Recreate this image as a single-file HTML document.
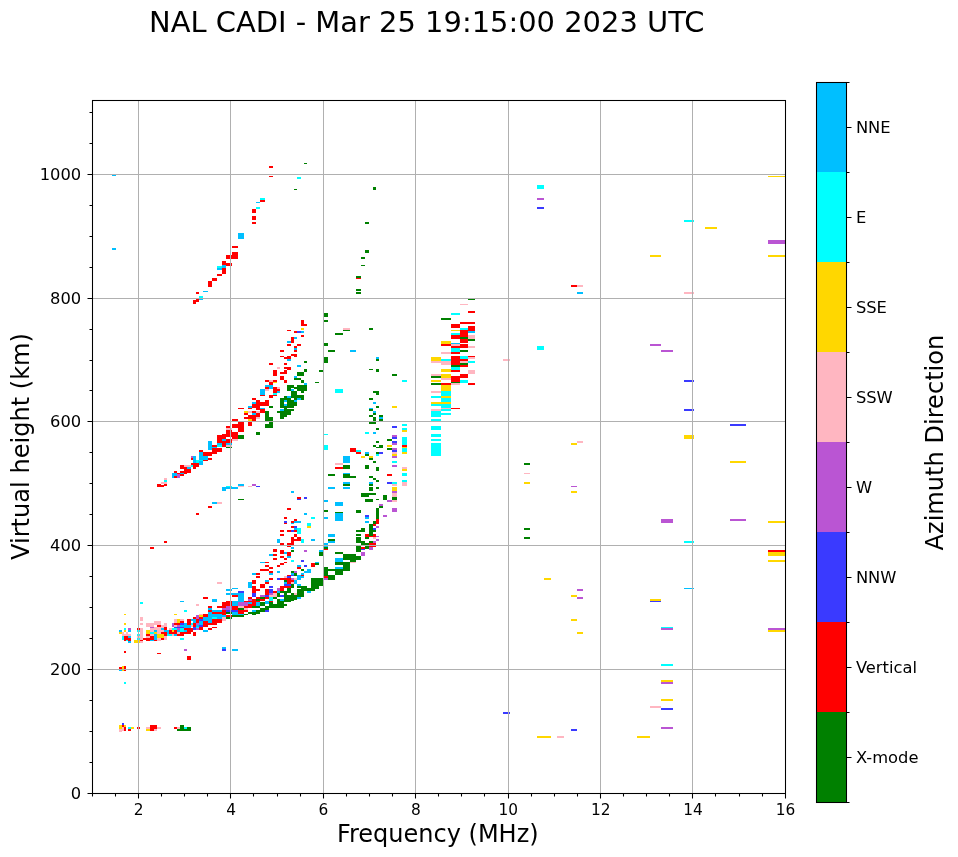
<!DOCTYPE html>
<html lang="en"><head><meta charset="utf-8"><title>NAL CADI ionogram</title>
<style>html,body{margin:0;padding:0;background:#fff}svg{display:block;will-change:transform}</style></head>
<body>
<svg width="958" height="857" viewBox="0 0 958 857" font-family='"DejaVu Sans","Liberation Sans",sans-serif' fill="#000">
<rect width="958" height="857" fill="#fff"/>
<g id="data" shape-rendering="crispEdges">
<path fill="#ffd700" d="M768 176h17v1h-17z"/>
<path fill="#00ffff" d="M684 220h10v2h-10z"/>
<path fill="#ffd700" d="M705 227h12v2h-12z"/>
<path fill="#ba55d3" d="M768 240h17v4h-17z"/>
<path fill="#ffd700" d="M768 255h17v2h-17zM650 255h11v2h-11z"/>
<path fill="#ffb6c1" d="M684 292h10v2h-10z"/>
<path fill="#ba55d3" d="M650 344h11v2h-11zM661 350h12v2h-12z"/>
<path fill="#3a3aff" d="M684 380h10v2h-10zM684 409h10v2h-10zM730 424h16v2h-16z"/>
<path fill="#ffd700" d="M684 435h10v4h-10zM730 461h16v2h-16z"/>
<path fill="#ba55d3" d="M661 519h12v4h-12zM730 519h16v2h-16z"/>
<path fill="#ffd700" d="M768 521h17v2h-17z"/>
<path fill="#00ffff" d="M684 541h10v2h-10z"/>
<path fill="#ff0000" d="M768 550h17v2h-17z"/>
<path fill="#ffd700" d="M768 552h17v4h-17zM768 560h17v2h-17z"/>
<path fill="#00bfff" d="M684 588h10v1h-10z"/>
<path fill="#ffd700" d="M650 599h11v2h-11z"/>
<path fill="#3a3aff" d="M650 601h11v1h-11z"/>
<path fill="#00ffff" d="M661 627h12v1h-12z"/>
<path fill="#ba55d3" d="M661 628h12v2h-12zM768 628h17v2h-17z"/>
<path fill="#ffd700" d="M768 630h17v2h-17z"/>
<path fill="#00ffff" d="M661 664h12v2h-12z"/>
<path fill="#ffd700" d="M661 680h12v2h-12z"/>
<path fill="#ba55d3" d="M661 682h12v2h-12z"/>
<path fill="#ffd700" d="M661 699h12v2h-12z"/>
<path fill="#ffb6c1" d="M650 706h11v2h-11z"/>
<path fill="#3a3aff" d="M661 708h12v2h-12z"/>
<path fill="#ba55d3" d="M661 727h12v2h-12z"/>
<path fill="#ffd700" d="M637 736h13v2h-13z"/>
<path fill="#00ffff" d="M537 185h7v4h-7z"/>
<path fill="#ba55d3" d="M537 198h7v2h-7z"/>
<path fill="#3a3aff" d="M537 207h7v2h-7z"/>
<path fill="#ff0000" d="M571 285h6v2h-6z"/>
<path fill="#ffb6c1" d="M577 285h6v2h-6z"/>
<path fill="#00bfff" d="M577 292h6v2h-6z"/>
<path fill="#00ffff" d="M537 346h7v4h-7z"/>
<path fill="#ffb6c1" d="M503 359h7v2h-7zM577 441h6v2h-6z"/>
<path fill="#ffd700" d="M571 443h6v2h-6z"/>
<path fill="#008000" d="M524 463h6v2h-6z"/>
<path fill="#ffb6c1" d="M524 473h6v1h-6z"/>
<path fill="#ffd700" d="M524 482h6v2h-6z"/>
<path fill="#ba55d3" d="M571 486h6v1h-6z"/>
<path fill="#ffd700" d="M571 491h6v2h-6z"/>
<path fill="#008000" d="M524 528h6v2h-6zM524 537h6v2h-6z"/>
<path fill="#ffd700" d="M544 578h7v2h-7z"/>
<path fill="#ba55d3" d="M577 589h6v2h-6z"/>
<path fill="#ffd700" d="M571 595h6v2h-6z"/>
<path fill="#ba55d3" d="M577 597h6v2h-6z"/>
<path fill="#ffd700" d="M571 619h6v2h-6zM577 632h6v2h-6z"/>
<path fill="#3a3aff" d="M503 712h7v2h-7zM571 729h6v2h-6z"/>
<path fill="#ffd700" d="M537 736h14v2h-14z"/>
<path fill="#ffb6c1" d="M557 736h7v2h-7z"/>
<path fill="#008000" d="M468 299h7v1h-7z"/>
<path fill="#ffb6c1" d="M460 304h8v1h-8z"/>
<path fill="#ff0000" d="M468 311h7v2h-7z"/>
<path fill="#00ffff" d="M451 313h9v2h-9z"/>
<path fill="#008000" d="M441 318h10v2h-10z"/>
<path fill="#ff0000" d="M460 322h15v2h-15zM451 324h9v4h-9z"/>
<path fill="#00ffff" d="M460 328h8v2h-8z"/>
<path fill="#ff0000" d="M468 326h7v5h-7z"/>
<path fill="#ffd700" d="M451 330h9v1h-9z"/>
<path fill="#ff0000" d="M460 330h8v7h-8z"/>
<path fill="#00bfff" d="M468 331h7v2h-7z"/>
<path fill="#00ffff" d="M451 333h9v2h-9z"/>
<path fill="#ff0000" d="M451 335h9v4h-9z"/>
<path fill="#ffb6c1" d="M468 335h7v4h-7z"/>
<path fill="#008000" d="M460 337h8v2h-8zM468 339h7v2h-7z"/>
<path fill="#ff0000" d="M460 339h8v4h-8z"/>
<path fill="#ffd700" d="M441 341h10v3h-10z"/>
<path fill="#00bfff" d="M451 343h9v1h-9z"/>
<path fill="#ff0000" d="M441 344h10v2h-10z"/>
<path fill="#ffb6c1" d="M451 344h9v2h-9z"/>
<path fill="#ff0000" d="M460 344h8v4h-8zM451 346h9v2h-9z"/>
<path fill="#ffb6c1" d="M468 346h7v2h-7z"/>
<path fill="#00ffff" d="M451 348h9v4h-9z"/>
<path fill="#008000" d="M460 350h8v2h-8z"/>
<path fill="#ffb6c1" d="M441 352h10v2h-10z"/>
<path fill="#ff0000" d="M451 352h9v2h-9zM451 356h9v9h-9z"/>
<path fill="#00ffff" d="M460 356h8v3h-8z"/>
<path fill="#ff0000" d="M468 356h7v1h-7z"/>
<path fill="#ffb6c1" d="M468 357h7v2h-7z"/>
<path fill="#ffd700" d="M431 357h10v4h-10z"/>
<path fill="#00ffff" d="M441 359h10v2h-10z"/>
<path fill="#ff0000" d="M460 359h8v2h-8z"/>
<path fill="#ffb6c1" d="M431 361h10v2h-10zM441 361h10v4h-10zM460 361h8v2h-8z"/>
<path fill="#00ffff" d="M468 361h7v2h-7z"/>
<path fill="#008000" d="M460 363h8v2h-8zM451 365h9v2h-9z"/>
<path fill="#ff0000" d="M460 365h8v2h-8z"/>
<path fill="#00ffff" d="M451 367h9v3h-9z"/>
<path fill="#ffd700" d="M441 369h10v3h-10z"/>
<path fill="#ff0000" d="M451 370h9v2h-9z"/>
<path fill="#ffb6c1" d="M468 370h7v4h-7zM431 374h10v2h-10z"/>
<path fill="#ffd700" d="M441 374h10v4h-10z"/>
<path fill="#ff0000" d="M460 374h8v4h-8z"/>
<path fill="#008000" d="M431 376h10v2h-10z"/>
<path fill="#ff0000" d="M451 376h9v6h-9z"/>
<path fill="#ffb6c1" d="M441 378h10v2h-10z"/>
<path fill="#ffd700" d="M431 380h10v2h-10z"/>
<path fill="#00ffff" d="M460 380h8v3h-8zM402 380h5v2h-5z"/>
<path fill="#008000" d="M451 382h9v1h-9zM431 383h10v2h-10z"/>
<path fill="#ff0000" d="M441 383h10v2h-10z"/>
<path fill="#ffb6c1" d="M451 383h9v2h-9z"/>
<path fill="#ff0000" d="M468 383h7v2h-7z"/>
<path fill="#ffd700" d="M441 385h10v6h-10z"/>
<path fill="#ffb6c1" d="M431 391h10v2h-10z"/>
<path fill="#00ffff" d="M441 391h10v5h-10zM431 396h10v2h-10z"/>
<path fill="#ffd700" d="M441 396h10v2h-10z"/>
<path fill="#00ffff" d="M441 398h10v4h-10z"/>
<path fill="#ffd700" d="M431 402h20v2h-20z"/>
<path fill="#00ffff" d="M431 404h10v2h-10zM441 404h10v4h-10z"/>
<path fill="#ffb6c1" d="M441 408h10v1h-10z"/>
<path fill="#ff0000" d="M451 408h9v1h-9z"/>
<path fill="#ffb6c1" d="M431 409h10v2h-10z"/>
<path fill="#00ffff" d="M441 409h10v2h-10zM431 411h10v6h-10zM441 413h10v2h-10zM431 419h10v2h-10zM431 426h10v4h-10zM431 434h10v3h-10zM431 439h10v2h-10zM431 443h10v13h-10zM402 424h5v2h-5zM402 428h5v2h-5z"/>
<path fill="#ffd700" d="M402 430h5v2h-5z"/>
<path fill="#00ffff" d="M402 437h5v8h-5z"/>
<path fill="#ff0000" d="M402 445h5v2h-5z"/>
<path fill="#ffd700" d="M402 447h5v1h-5z"/>
<path fill="#00ffff" d="M402 448h5v4h-5z"/>
<path fill="#ffd700" d="M402 452h5v2h-5z"/>
<path fill="#ffb6c1" d="M402 467h5v2h-5z"/>
<path fill="#ffd700" d="M402 469h5v2h-5z"/>
<path fill="#00ffff" d="M402 473h5v3h-5zM402 480h5v2h-5z"/>
<path fill="#ffb6c1" d="M402 482h5v4h-5z"/>
<path fill="#3a3aff" d="M392 441h5v2h-5z"/>
<path fill="#ba55d3" d="M392 443h5v2h-5zM392 448h5v2h-5z"/>
<path fill="#3a3aff" d="M392 450h5v2h-5z"/>
<path fill="#ffb6c1" d="M392 452h5v2h-5z"/>
<path fill="#ffd700" d="M392 454h5v2h-5z"/>
<path fill="#ba55d3" d="M392 456h5v2h-5z"/>
<path fill="#00ffff" d="M392 461h5v2h-5z"/>
<path fill="#ba55d3" d="M392 465h5v2h-5z"/>
<path fill="#00ffff" d="M392 482h5v2h-5z"/>
<path fill="#ffb6c1" d="M392 484h5v2h-5z"/>
<path fill="#ffd700" d="M392 487h5v4h-5z"/>
<path fill="#ba55d3" d="M392 491h5v2h-5z"/>
<path fill="#ffb6c1" d="M392 493h5v4h-5z"/>
<path fill="#008000" d="M392 497h5v3h-5z"/>
<path fill="#ffb6c1" d="M392 500h5v2h-5z"/>
<path fill="#ba55d3" d="M392 508h5v4h-5z"/>
<path fill="#008000" d="M387 440h5v1h-5z"/>
<path fill="#ffd700" d="M387 445h5v2h-5z"/>
<path fill="#008000" d="M387 448h5v2h-5z"/>
<path fill="#ff0000" d="M387 474h5v2h-5z"/>
<path fill="#3a3aff" d="M387 482h5v2h-5z"/>
<path fill="#ba55d3" d="M387 500h5v2h-5z"/>
<path fill="#008000" d="M383 495h4v5h-4z"/>
<path fill="#ba55d3" d="M383 515h4v2h-4z"/>
<path fill="#008000" d="M379 445h4v3h-4z"/>
<path fill="#3a3aff" d="M379 452h4v2h-4z"/>
<path fill="#ba55d3" d="M379 504h4v2h-4z"/>
<path fill="#008000" d="M379 506h4v2h-4zM376 441h3v2h-3zM376 447h3v1h-3zM376 452h3v2h-3z"/>
<path fill="#00ffff" d="M376 454h3v2h-3z"/>
<path fill="#008000" d="M376 467h3v4h-3zM376 480h3v2h-3zM376 487h3v2h-3zM376 499h3v1h-3zM376 508h3v11h-3z"/>
<path fill="#ff0000" d="M376 519h3v5h-3z"/>
<path fill="#008000" d="M373 445h3v2h-3zM373 461h3v2h-3zM373 478h3v2h-3zM373 521h3v3h-3z"/>
<path fill="#ff0000" d="M373 524h3v2h-3z"/>
<path fill="#ffd700" d="M370 456h3v2h-3z"/>
<path fill="#008000" d="M370 458h3v2h-3zM370 476h3v2h-3z"/>
<path fill="#00bfff" d="M370 482h3v2h-3z"/>
<path fill="#008000" d="M370 484h3v2h-3zM370 487h3v4h-3zM370 493h6v2h-6zM370 499h3v3h-3zM370 524h3v2h-3z"/>
<path fill="#ff0000" d="M269 166h4v2h-4zM269 176h4v1h-4z"/>
<path fill="#00ffff" d="M297 177h4v2h-4z"/>
<path fill="#008000" d="M294 189h3v1h-3z"/>
<path fill="#00ffff" d="M260 198h5v2h-5z"/>
<path fill="#ff0000" d="M260 200h5v2h-5z"/>
<path fill="#00bfff" d="M256 202h4v1h-4z"/>
<path fill="#00ffff" d="M256 207h4v2h-4z"/>
<path fill="#ff0000" d="M252 209h4v4h-4zM252 216h4v4h-4zM252 222h4v2h-4z"/>
<path fill="#00bfff" d="M238 233h6v6h-6z"/>
<path fill="#ff0000" d="M232 246h6v2h-6zM232 252h6v7h-6zM226 255h6v4h-6zM222 261h4v5h-4zM226 263h6v3h-6z"/>
<path fill="#00ffff" d="M217 266h5v2h-5z"/>
<path fill="#00bfff" d="M217 268h5v2h-5zM222 265h4v3h-4z"/>
<path fill="#ff0000" d="M222 268h4v6h-4zM217 274h5v2h-5zM212 278h5v3h-5zM208 281h4v6h-4z"/>
<path fill="#00bfff" d="M203 291h5v1h-5z"/>
<path fill="#ff0000" d="M196 292h3v2h-3z"/>
<path fill="#00ffff" d="M199 296h4v2h-4z"/>
<path fill="#00bfff" d="M199 298h4v2h-4z"/>
<path fill="#ff0000" d="M196 299h3v3h-3zM193 300h3v4h-3z"/>
<path fill="#008000" d="M304 163h3v1h-3zM373 187h3v3h-3zM365 222h4v2h-4zM365 250h4v3h-4zM361 257h4v2h-4zM361 265h4v1h-4zM356 276h5v2h-5z"/>
<path fill="#ff0000" d="M356 278h5v1h-5z"/>
<path fill="#008000" d="M356 289h5v2h-5zM356 292h5v2h-5zM324 313h4v4h-4zM324 320h4v2h-4z"/>
<path fill="#ffb6c1" d="M343 328h7v2h-7z"/>
<path fill="#008000" d="M343 330h7v1h-7zM369 328h4v2h-4zM335 333h8v2h-8zM324 343h4v3h-4z"/>
<path fill="#ff0000" d="M301 320h3v6h-3zM304 324h3v2h-3z"/>
<path fill="#ffd700" d="M301 328h3v2h-3z"/>
<path fill="#ff0000" d="M287 330h4v1h-4zM294 331h3v2h-3z"/>
<path fill="#3a3aff" d="M297 331h4v2h-4z"/>
<path fill="#00bfff" d="M301 331h3v2h-3z"/>
<path fill="#ff0000" d="M301 335h3v2h-3zM291 337h3v6h-3z"/>
<path fill="#00bfff" d="M294 337h3v2h-3zM287 341h4v2h-4z"/>
<path fill="#ff0000" d="M287 344h4v2h-4zM297 344h4v2h-4zM294 346h3v2h-3z"/>
<path fill="#00bfff" d="M294 348h3v2h-3z"/>
<path fill="#ff0000" d="M294 350h3v2h-3zM280 350h4v2h-4zM291 354h3v2h-3zM294 354h3v3h-3zM280 356h4v1h-4zM284 357h3v2h-3zM287 356h4v3h-4z"/>
<path fill="#00bfff" d="M287 359h4v2h-4z"/>
<path fill="#008000" d="M304 361h3v2h-3z"/>
<path fill="#ff0000" d="M269 363h4v2h-4zM284 363h3v2h-3z"/>
<path fill="#00bfff" d="M297 365h4v2h-4z"/>
<path fill="#ffb6c1" d="M277 367h3v2h-3z"/>
<path fill="#ff0000" d="M284 367h7v2h-7zM287 369h4v1h-4z"/>
<path fill="#008000" d="M304 369h3v3h-3zM319 370h4v2h-4z"/>
<path fill="#ff0000" d="M273 370h4v6h-4zM284 370h3v4h-3zM280 372h4v2h-4z"/>
<path fill="#008000" d="M297 372h7v4h-7z"/>
<path fill="#00bfff" d="M294 376h3v2h-3z"/>
<path fill="#ff0000" d="M280 376h4v4h-4z"/>
<path fill="#008000" d="M294 378h7v2h-7z"/>
<path fill="#ff0000" d="M284 380h3v3h-3z"/>
<path fill="#008000" d="M301 380h3v3h-3z"/>
<path fill="#ff0000" d="M265 380h4v2h-4z"/>
<path fill="#ffb6c1" d="M269 380h4v2h-4z"/>
<path fill="#ff0000" d="M273 380h4v2h-4z"/>
<path fill="#ffd700" d="M273 382h4v1h-4z"/>
<path fill="#ff0000" d="M269 382h4v3h-4z"/>
<path fill="#008000" d="M315 382h4v1h-4z"/>
<path fill="#00bfff" d="M304 383h3v2h-3zM265 385h8v2h-8zM269 387h4v2h-4z"/>
<path fill="#ff0000" d="M265 387h4v2h-4z"/>
<path fill="#008000" d="M287 385h7v3h-7zM287 388h4v3h-4zM297 385h10v6h-10zM294 387h3v2h-3z"/>
<path fill="#00bfff" d="M291 389h3v2h-3z"/>
<path fill="#ff0000" d="M273 387h4v6h-4z"/>
<path fill="#ffb6c1" d="M277 387h3v2h-3z"/>
<path fill="#ff0000" d="M277 389h3v2h-3z"/>
<path fill="#00bfff" d="M277 391h3v2h-3zM260 389h5v6h-5z"/>
<path fill="#ffb6c1" d="M265 389h4v2h-4z"/>
<path fill="#008000" d="M291 391h6v5h-6zM301 391h3v2h-3z"/>
<path fill="#00ffff" d="M273 393h4v2h-4z"/>
<path fill="#ff0000" d="M260 395h5v1h-5zM273 395h4v1h-4zM269 395h4v3h-4z"/>
<path fill="#008000" d="M287 390h4v1h-4z"/>
<path fill="#00bfff" d="M291 390h3v1h-3z"/>
<path fill="#008000" d="M297 390h10v1h-10zM291 391h6v4h-6zM284 396h3v2h-3z"/>
<path fill="#00bfff" d="M287 396h4v2h-4z"/>
<path fill="#008000" d="M291 395h6v3h-6zM297 395h7v3h-7zM280 398h11v2h-11zM294 398h3v2h-3z"/>
<path fill="#00bfff" d="M297 398h4v2h-4z"/>
<path fill="#008000" d="M301 398h3v2h-3zM280 400h4v2h-4z"/>
<path fill="#00bfff" d="M284 400h3v2h-3z"/>
<path fill="#008000" d="M287 400h7v2h-7z"/>
<path fill="#00bfff" d="M294 400h3v2h-3z"/>
<path fill="#008000" d="M280 402h4v2h-4zM287 402h10v2h-10zM280 404h4v2h-4z"/>
<path fill="#00bfff" d="M284 404h3v2h-3z"/>
<path fill="#008000" d="M287 404h10v2h-10zM280 406h7v2h-7zM287 406h4v2h-4zM291 406h3v2h-3z"/>
<path fill="#00bfff" d="M280 409h4v2h-4z"/>
<path fill="#008000" d="M284 408h3v3h-3zM287 409h7v2h-7zM277 411h14v2h-14zM280 413h11v2h-11zM280 415h7v2h-7zM280 417h4v2h-4zM269 406h4v2h-4zM265 411h4v10h-4zM269 417h4v4h-4zM269 422h4v2h-4zM265 424h8v4h-8zM256 432h4v3h-4zM238 435h6v4h-6z"/>
<path fill="#ff0000" d="M252 398h4v2h-4zM256 400h4v10h-4zM260 402h5v4h-5zM265 400h4v6h-4z"/>
<path fill="#00bfff" d="M252 402h4v2h-4z"/>
<path fill="#ff0000" d="M252 404h4v4h-4z"/>
<path fill="#00bfff" d="M248 406h4v2h-4z"/>
<path fill="#ff0000" d="M248 408h4v1h-4zM238 408h6v1h-6z"/>
<path fill="#00bfff" d="M260 408h5v1h-5z"/>
<path fill="#ff0000" d="M260 409h5v4h-5z"/>
<path fill="#ffd700" d="M244 411h4v2h-4z"/>
<path fill="#ffb6c1" d="M248 411h4v2h-4z"/>
<path fill="#ff0000" d="M252 411h4v2h-4z"/>
<path fill="#ffb6c1" d="M256 411h4v2h-4z"/>
<path fill="#ff0000" d="M244 413h4v2h-4z"/>
<path fill="#00bfff" d="M252 413h4v2h-4z"/>
<path fill="#ff0000" d="M256 413h4v4h-4zM248 415h8v4h-8zM244 417h4v2h-4z"/>
<path fill="#ffb6c1" d="M256 417h4v2h-4z"/>
<path fill="#ffd700" d="M248 419h4v2h-4z"/>
<path fill="#ff0000" d="M252 419h4v2h-4zM232 419h6v2h-6zM248 422h4v4h-4zM238 422h6v10h-6zM232 424h6v4h-6zM232 432h6v7h-6z"/>
<path fill="#ffb6c1" d="M232 439h6v2h-6z"/>
<path fill="#00ffff" d="M324 434h4v1h-4zM324 445h4v5h-4z"/>
<path fill="#ff0000" d="M226 426h4v2h-4z"/>
<path fill="#ffb6c1" d="M226 428h6v2h-6z"/>
<path fill="#ff0000" d="M226 430h6v7h-6zM222 434h4v2h-4zM217 435h9v4h-9zM217 439h5v4h-5z"/>
<path fill="#00bfff" d="M222 439h4v2h-4z"/>
<path fill="#ff0000" d="M226 439h6v4h-6zM222 441h4v6h-4z"/>
<path fill="#00bfff" d="M217 443h5v2h-5z"/>
<path fill="#00ffff" d="M217 445h5v2h-5z"/>
<path fill="#00bfff" d="M226 443h6v2h-6z"/>
<path fill="#ffb6c1" d="M226 445h6v2h-6z"/>
<path fill="#008000" d="M226 447h6v1h-6z"/>
<path fill="#00bfff" d="M208 441h4v9h-4z"/>
<path fill="#ff0000" d="M212 445h5v2h-5z"/>
<path fill="#00bfff" d="M212 447h5v1h-5z"/>
<path fill="#ff0000" d="M212 448h10v4h-10zM212 452h5v2h-5zM199 450h4v2h-4z"/>
<path fill="#00bfff" d="M199 452h4v8h-4z"/>
<path fill="#ff0000" d="M203 452h9v4h-9z"/>
<path fill="#ba55d3" d="M191 456h2v2h-2z"/>
<path fill="#00bfff" d="M193 456h3v7h-3z"/>
<path fill="#ff0000" d="M191 458h2v2h-2z"/>
<path fill="#00bfff" d="M203 456h5v4h-5z"/>
<path fill="#ff0000" d="M208 458h4v2h-4zM203 460h5v1h-5z"/>
<path fill="#00ffff" d="M196 460h7v3h-7z"/>
<path fill="#00bfff" d="M199 461h4v4h-4z"/>
<path fill="#ff0000" d="M191 463h8v4h-8zM193 467h3v2h-3zM180 465h4v4h-4z"/>
<path fill="#ffb6c1" d="M184 465h7v2h-7z"/>
<path fill="#00ffff" d="M191 465h2v2h-2z"/>
<path fill="#00bfff" d="M187 467h4v2h-4z"/>
<path fill="#ff0000" d="M184 467h3v4h-3zM187 469h4v4h-4zM184 471h3v3h-3zM180 471h4v2h-4zM174 471h3v2h-3z"/>
<path fill="#00bfff" d="M172 473h5v3h-5zM172 476h2v2h-2zM180 473h4v1h-4z"/>
<path fill="#ff0000" d="M177 473h3v1h-3zM180 474h4v2h-4z"/>
<path fill="#ba55d3" d="M177 474h3v4h-3z"/>
<path fill="#ff0000" d="M174 476h3v2h-3z"/>
<path fill="#ffb6c1" d="M164 478h3v2h-3z"/>
<path fill="#00ffff" d="M164 480h3v2h-3z"/>
<path fill="#ffb6c1" d="M161 482h6v2h-6z"/>
<path fill="#ff0000" d="M157 484h4v3h-4zM161 485h3v2h-3zM164 484h3v2h-3z"/>
<path fill="#00bfff" d="M222 487h4v4h-4z"/>
<path fill="#00ffff" d="M226 486h6v1h-6z"/>
<path fill="#00bfff" d="M226 487h10v2h-10zM212 502h5v2h-5z"/>
<path fill="#ffb6c1" d="M217 502h5v2h-5z"/>
<path fill="#ff0000" d="M208 506h4v2h-4zM196 513h3v2h-3zM164 541h3v2h-3zM150 547h4v2h-4z"/>
<path fill="#00bfff" d="M232 487h6v2h-6zM238 484h6v2h-6z"/>
<path fill="#ffb6c1" d="M238 486h6v1h-6zM248 486h4v1h-4z"/>
<path fill="#ba55d3" d="M252 484h4v2h-4z"/>
<path fill="#3a3aff" d="M256 486h4v1h-4z"/>
<path fill="#008000" d="M238 499h6v1h-6z"/>
<path fill="#00bfff" d="M291 491h3v2h-3z"/>
<path fill="#ff0000" d="M297 497h4v2h-4z"/>
<path fill="#3a3aff" d="M297 499h4v1h-4zM304 497h3v2h-3z"/>
<path fill="#ff0000" d="M287 508h4v2h-4z"/>
<path fill="#00bfff" d="M304 513h3v2h-3z"/>
<path fill="#00ffff" d="M311 517h4v2h-4z"/>
<path fill="#ff0000" d="M284 517h3v2h-3zM294 519h3v2h-3z"/>
<path fill="#3a3aff" d="M284 521h3v2h-3z"/>
<path fill="#ff0000" d="M284 523h3v1h-3zM291 521h3v2h-3z"/>
<path fill="#00bfff" d="M291 523h3v1h-3zM294 521h7v2h-7z"/>
<path fill="#00ffff" d="M307 523h4v3h-4z"/>
<path fill="#ffd700" d="M307 526h4v2h-4z"/>
<path fill="#ff0000" d="M291 526h3v2h-3z"/>
<path fill="#3a3aff" d="M294 526h3v2h-3z"/>
<path fill="#00bfff" d="M294 528h3v2h-3z"/>
<path fill="#00ffff" d="M297 528h4v6h-4z"/>
<path fill="#ff0000" d="M280 530h4v2h-4zM287 530h4v2h-4z"/>
<path fill="#3a3aff" d="M291 530h3v2h-3z"/>
<path fill="#ff0000" d="M294 530h3v2h-3zM280 534h4v2h-4zM294 534h3v3h-3zM291 537h3v8h-3zM297 537h4v4h-4zM294 539h3v2h-3z"/>
<path fill="#00ffff" d="M301 539h3v4h-3z"/>
<path fill="#00bfff" d="M311 539h4v2h-4zM277 539h3v4h-3z"/>
<path fill="#ff0000" d="M280 543h4v2h-4zM287 543h4v4h-4z"/>
<path fill="#00bfff" d="M291 547h3v2h-3z"/>
<path fill="#ff0000" d="M273 549h4v3h-4zM280 550h4v4h-4z"/>
<path fill="#008000" d="M291 550h3v2h-3z"/>
<path fill="#ba55d3" d="M304 550h3v2h-3z"/>
<path fill="#00bfff" d="M284 552h3v2h-3z"/>
<path fill="#ff0000" d="M287 552h4v4h-4z"/>
<path fill="#00bfff" d="M319 550h4v2h-4z"/>
<path fill="#008000" d="M319 552h4v4h-4z"/>
<path fill="#00bfff" d="M269 554h4v2h-4z"/>
<path fill="#ff0000" d="M273 554h4v2h-4zM273 558h4v2h-4z"/>
<path fill="#00bfff" d="M260 562h5v1h-5z"/>
<path fill="#ff0000" d="M265 562h4v1h-4zM265 565h4v2h-4zM269 567h4v2h-4zM260 569h9v2h-9zM269 571h4v2h-4z"/>
<path fill="#00bfff" d="M252 573h4v2h-4z"/>
<path fill="#ff0000" d="M256 573h4v2h-4z"/>
<path fill="#00bfff" d="M269 573h4v2h-4z"/>
<path fill="#ff0000" d="M256 576h4v2h-4zM269 578h4v2h-4z"/>
<path fill="#00bfff" d="M265 580h4v2h-4z"/>
<path fill="#ff0000" d="M252 580h4v4h-4z"/>
<path fill="#00bfff" d="M248 582h4v2h-4z"/>
<path fill="#ff0000" d="M265 582h4v2h-4zM280 556h4v2h-4z"/>
<path fill="#00bfff" d="M287 556h4v2h-4z"/>
<path fill="#ff0000" d="M284 558h3v2h-3z"/>
<path fill="#00bfff" d="M232 588h6v1h-6zM232 593h6v2h-6z"/>
<path fill="#ff0000" d="M232 595h6v2h-6z"/>
<path fill="#00bfff" d="M232 601h6v5h-6z"/>
<path fill="#ff0000" d="M232 606h6v4h-6z"/>
<path fill="#3a3aff" d="M232 610h6v2h-6z"/>
<path fill="#00bfff" d="M232 612h6v3h-6z"/>
<path fill="#008000" d="M232 615h6v2h-6z"/>
<path fill="#3a3aff" d="M238 591h6v2h-6z"/>
<path fill="#00bfff" d="M238 593h6v9h-6z"/>
<path fill="#ba55d3" d="M238 602h6v4h-6z"/>
<path fill="#ffb6c1" d="M238 606h6v2h-6z"/>
<path fill="#008000" d="M238 608h6v2h-6z"/>
<path fill="#ff0000" d="M238 610h6v4h-6z"/>
<path fill="#00bfff" d="M238 614h6v1h-6z"/>
<path fill="#008000" d="M238 615h6v2h-6z"/>
<path fill="#ff0000" d="M244 601h4v1h-4z"/>
<path fill="#ba55d3" d="M244 602h4v4h-4z"/>
<path fill="#ff0000" d="M244 606h4v2h-4z"/>
<path fill="#ffb6c1" d="M244 608h4v2h-4z"/>
<path fill="#ff0000" d="M244 610h4v2h-4z"/>
<path fill="#008000" d="M244 614h4v1h-4z"/>
<path fill="#00bfff" d="M248 584h4v4h-4z"/>
<path fill="#ff0000" d="M248 597h4v2h-4z"/>
<path fill="#ba55d3" d="M248 599h4v2h-4z"/>
<path fill="#ff0000" d="M248 601h4v1h-4z"/>
<path fill="#00bfff" d="M248 602h4v2h-4z"/>
<path fill="#ff0000" d="M248 604h4v4h-4z"/>
<path fill="#008000" d="M248 612h4v2h-4z"/>
<path fill="#ff0000" d="M252 586h4v7h-4z"/>
<path fill="#3a3aff" d="M252 593h4v4h-4z"/>
<path fill="#ff0000" d="M252 599h4v7h-4z"/>
<path fill="#008000" d="M252 606h4v2h-4z"/>
<path fill="#00bfff" d="M252 610h4v2h-4z"/>
<path fill="#008000" d="M252 612h4v3h-4z"/>
<path fill="#ff0000" d="M256 589h4v2h-4zM256 597h4v2h-4z"/>
<path fill="#008000" d="M256 599h4v2h-4z"/>
<path fill="#ff0000" d="M256 601h4v1h-4z"/>
<path fill="#00bfff" d="M256 602h4v4h-4z"/>
<path fill="#008000" d="M256 606h4v2h-4zM256 610h4v4h-4z"/>
<path fill="#ff0000" d="M260 584h5v4h-5z"/>
<path fill="#ba55d3" d="M260 595h5v2h-5z"/>
<path fill="#008000" d="M260 597h5v2h-5z"/>
<path fill="#ff0000" d="M260 599h5v2h-5z"/>
<path fill="#008000" d="M260 602h5v4h-5zM260 608h5v4h-5z"/>
<path fill="#ff0000" d="M265 589h4v6h-4z"/>
<path fill="#3a3aff" d="M265 595h4v2h-4z"/>
<path fill="#ff0000" d="M265 597h4v2h-4z"/>
<path fill="#00bfff" d="M265 601h4v3h-4z"/>
<path fill="#008000" d="M265 606h4v4h-4z"/>
<path fill="#3a3aff" d="M265 610h4v2h-4zM269 586h4v2h-4zM269 589h4v4h-4z"/>
<path fill="#ba55d3" d="M269 593h4v2h-4z"/>
<path fill="#ffb6c1" d="M269 595h4v2h-4z"/>
<path fill="#00ffff" d="M269 597h4v4h-4z"/>
<path fill="#ff0000" d="M269 601h4v1h-4z"/>
<path fill="#008000" d="M269 602h4v6h-4z"/>
<path fill="#ff0000" d="M273 591h4v2h-4z"/>
<path fill="#ffb6c1" d="M273 593h4v4h-4z"/>
<path fill="#008000" d="M273 597h4v2h-4zM273 604h4v4h-4z"/>
<path fill="#ff0000" d="M277 565h3v2h-3z"/>
<path fill="#00bfff" d="M277 571h3v2h-3z"/>
<path fill="#3a3aff" d="M277 578h3v2h-3z"/>
<path fill="#ba55d3" d="M277 588h3v3h-3z"/>
<path fill="#00bfff" d="M277 591h3v2h-3z"/>
<path fill="#008000" d="M277 593h3v4h-3zM277 599h3v9h-3z"/>
<path fill="#ff0000" d="M280 563h4v2h-4zM280 578h4v2h-4zM280 586h4v5h-4z"/>
<path fill="#008000" d="M280 591h4v2h-4z"/>
<path fill="#3a3aff" d="M280 595h4v2h-4z"/>
<path fill="#00bfff" d="M280 599h4v2h-4z"/>
<path fill="#008000" d="M280 601h4v7h-4z"/>
<path fill="#ff0000" d="M284 562h3v1h-3z"/>
<path fill="#ffb6c1" d="M284 576h3v2h-3z"/>
<path fill="#ff0000" d="M284 578h3v2h-3z"/>
<path fill="#008000" d="M284 580h3v2h-3z"/>
<path fill="#00bfff" d="M284 582h3v2h-3z"/>
<path fill="#3a3aff" d="M284 584h3v2h-3z"/>
<path fill="#ff0000" d="M284 586h3v2h-3z"/>
<path fill="#008000" d="M284 591h3v11h-3zM284 604h3v2h-3z"/>
<path fill="#ff0000" d="M287 575h4v1h-4z"/>
<path fill="#3a3aff" d="M287 576h4v2h-4z"/>
<path fill="#ff0000" d="M287 578h4v6h-4z"/>
<path fill="#3a3aff" d="M287 584h4v2h-4z"/>
<path fill="#ff0000" d="M287 586h4v2h-4z"/>
<path fill="#008000" d="M287 588h4v5h-4zM287 595h4v7h-4z"/>
<path fill="#00ffff" d="M291 560h3v2h-3z"/>
<path fill="#008000" d="M291 571h3v2h-3z"/>
<path fill="#00bfff" d="M291 573h3v2h-3z"/>
<path fill="#3a3aff" d="M291 575h3v1h-3z"/>
<path fill="#ba55d3" d="M291 578h3v2h-3z"/>
<path fill="#ff0000" d="M291 580h3v2h-3z"/>
<path fill="#ffb6c1" d="M291 582h3v2h-3z"/>
<path fill="#008000" d="M291 584h3v4h-3zM291 593h3v8h-3z"/>
<path fill="#ba55d3" d="M294 571h3v2h-3z"/>
<path fill="#008000" d="M294 573h3v3h-3z"/>
<path fill="#ffb6c1" d="M294 578h3v2h-3z"/>
<path fill="#00bfff" d="M294 580h3v4h-3z"/>
<path fill="#ffb6c1" d="M294 593h3v2h-3z"/>
<path fill="#008000" d="M294 595h3v5h-3z"/>
<path fill="#00bfff" d="M297 565h4v2h-4z"/>
<path fill="#ff0000" d="M297 567h4v2h-4z"/>
<path fill="#00bfff" d="M297 575h4v5h-4zM297 584h4v2h-4z"/>
<path fill="#008000" d="M297 586h4v2h-4zM297 589h4v8h-4z"/>
<path fill="#00bfff" d="M297 597h4v2h-4z"/>
<path fill="#3a3aff" d="M301 560h3v2h-3z"/>
<path fill="#008000" d="M301 569h3v2h-3z"/>
<path fill="#00bfff" d="M301 573h3v2h-3z"/>
<path fill="#ff0000" d="M301 575h3v1h-3z"/>
<path fill="#00bfff" d="M301 576h3v2h-3z"/>
<path fill="#008000" d="M301 586h3v11h-3z"/>
<path fill="#3a3aff" d="M304 565h3v2h-3z"/>
<path fill="#00bfff" d="M304 571h3v2h-3z"/>
<path fill="#008000" d="M304 586h3v5h-3z"/>
<path fill="#00bfff" d="M307 569h4v4h-4z"/>
<path fill="#008000" d="M307 588h4v3h-4z"/>
<path fill="#00bfff" d="M307 591h4v2h-4z"/>
<path fill="#ff0000" d="M311 563h4v4h-4z"/>
<path fill="#008000" d="M311 578h4v13h-4z"/>
<path fill="#00bfff" d="M315 562h4v1h-4z"/>
<path fill="#008000" d="M315 563h4v2h-4zM315 578h4v11h-4zM319 578h4v8h-4z"/>
<path fill="#00bfff" d="M226 589h6v2h-6zM226 593h6v2h-6z"/>
<path fill="#ff0000" d="M226 601h6v5h-6z"/>
<path fill="#ba55d3" d="M226 606h6v4h-6z"/>
<path fill="#3a3aff" d="M226 610h6v2h-6z"/>
<path fill="#008000" d="M226 612h6v2h-6z"/>
<path fill="#ff0000" d="M226 615h6v2h-6z"/>
<path fill="#008000" d="M226 617h6v2h-6z"/>
<path fill="#ff0000" d="M222 602h4v6h-4z"/>
<path fill="#ba55d3" d="M222 608h4v2h-4z"/>
<path fill="#ff0000" d="M222 610h4v5h-4z"/>
<path fill="#00bfff" d="M222 615h4v2h-4z"/>
<path fill="#ffb6c1" d="M222 617h4v4h-4z"/>
<path fill="#ff0000" d="M217 606h5v2h-5z"/>
<path fill="#00bfff" d="M217 610h5v2h-5z"/>
<path fill="#ff0000" d="M217 612h5v2h-5z"/>
<path fill="#00bfff" d="M217 614h5v5h-5z"/>
<path fill="#ff0000" d="M217 619h5v4h-5z"/>
<path fill="#00bfff" d="M212 599h5v3h-5zM212 610h5v2h-5z"/>
<path fill="#ff0000" d="M212 612h5v2h-5z"/>
<path fill="#00bfff" d="M212 614h5v3h-5z"/>
<path fill="#00ffff" d="M212 617h5v2h-5z"/>
<path fill="#ff0000" d="M212 619h5v6h-5zM212 627h5v1h-5zM208 606h4v2h-4z"/>
<path fill="#00bfff" d="M208 608h4v2h-4z"/>
<path fill="#ff0000" d="M208 610h4v2h-4z"/>
<path fill="#00bfff" d="M208 612h4v11h-4z"/>
<path fill="#ff0000" d="M208 623h4v2h-4zM208 628h4v2h-4zM203 597h5v2h-5zM203 614h5v3h-5z"/>
<path fill="#00bfff" d="M203 617h5v4h-5z"/>
<path fill="#ff0000" d="M203 621h5v6h-5z"/>
<path fill="#00bfff" d="M203 630h5v2h-5z"/>
<path fill="#ffb6c1" d="M199 614h4v1h-4z"/>
<path fill="#ffd700" d="M199 615h4v2h-4z"/>
<path fill="#ff0000" d="M199 617h4v2h-4z"/>
<path fill="#3a3aff" d="M199 619h4v2h-4z"/>
<path fill="#00bfff" d="M199 621h4v4h-4z"/>
<path fill="#3a3aff" d="M199 625h4v2h-4z"/>
<path fill="#ff0000" d="M199 627h4v3h-4z"/>
<path fill="#ffb6c1" d="M196 604h3v2h-3z"/>
<path fill="#ba55d3" d="M196 615h3v4h-3z"/>
<path fill="#ff0000" d="M196 619h3v4h-3z"/>
<path fill="#ba55d3" d="M196 623h3v2h-3z"/>
<path fill="#00bfff" d="M196 625h3v2h-3z"/>
<path fill="#00ffff" d="M196 627h3v1h-3z"/>
<path fill="#ba55d3" d="M196 628h3v2h-3z"/>
<path fill="#ff0000" d="M193 617h3v2h-3z"/>
<path fill="#00bfff" d="M193 619h3v4h-3z"/>
<path fill="#ff0000" d="M193 623h3v4h-3z"/>
<path fill="#3a3aff" d="M193 627h3v3h-3z"/>
<path fill="#ff0000" d="M193 632h3v4h-3z"/>
<path fill="#00bfff" d="M191 619h2v2h-2z"/>
<path fill="#00ffff" d="M191 623h2v2h-2z"/>
<path fill="#ffb6c1" d="M191 625h2v2h-2z"/>
<path fill="#ff0000" d="M191 628h2v4h-2zM187 619h4v6h-4z"/>
<path fill="#00bfff" d="M187 625h4v3h-4z"/>
<path fill="#ff0000" d="M187 628h4v6h-4z"/>
<path fill="#00ffff" d="M184 610h3v2h-3z"/>
<path fill="#00bfff" d="M184 623h3v5h-3z"/>
<path fill="#ff0000" d="M184 628h3v2h-3z"/>
<path fill="#00bfff" d="M184 630h3v2h-3z"/>
<path fill="#ff0000" d="M184 632h3v2h-3z"/>
<path fill="#00bfff" d="M180 601h4v1h-4z"/>
<path fill="#ffb6c1" d="M180 619h4v2h-4z"/>
<path fill="#ff0000" d="M180 621h4v2h-4z"/>
<path fill="#3a3aff" d="M180 623h4v2h-4z"/>
<path fill="#00bfff" d="M180 625h4v2h-4z"/>
<path fill="#3a3aff" d="M180 627h4v1h-4z"/>
<path fill="#00ffff" d="M180 628h4v4h-4z"/>
<path fill="#ff0000" d="M180 632h4v4h-4z"/>
<path fill="#00ffff" d="M180 638h4v2h-4z"/>
<path fill="#ffd700" d="M177 619h3v4h-3z"/>
<path fill="#ff0000" d="M177 623h3v2h-3z"/>
<path fill="#ba55d3" d="M177 625h3v2h-3z"/>
<path fill="#3a3aff" d="M177 627h3v1h-3z"/>
<path fill="#ba55d3" d="M177 628h3v2h-3z"/>
<path fill="#00bfff" d="M177 630h3v2h-3z"/>
<path fill="#ffb6c1" d="M177 632h3v2h-3z"/>
<path fill="#ff0000" d="M177 634h3v2h-3z"/>
<path fill="#00bfff" d="M119 630h3v2h-3z"/>
<path fill="#ffd700" d="M119 632h3v2h-3z"/>
<path fill="#ffb6c1" d="M122 632h2v4h-2z"/>
<path fill="#00ffff" d="M122 636h2v4h-2z"/>
<path fill="#ffd700" d="M124 614h2v1h-2zM124 623h2v2h-2z"/>
<path fill="#00ffff" d="M124 628h2v2h-2z"/>
<path fill="#ffd700" d="M124 630h2v2h-2z"/>
<path fill="#ffb6c1" d="M124 634h2v2h-2z"/>
<path fill="#ff0000" d="M124 636h2v5h-2z"/>
<path fill="#ffb6c1" d="M126 632h2v4h-2z"/>
<path fill="#ff0000" d="M126 636h2v4h-2z"/>
<path fill="#00ffff" d="M126 640h2v1h-2z"/>
<path fill="#ba55d3" d="M128 628h3v2h-3z"/>
<path fill="#00bfff" d="M128 630h3v2h-3z"/>
<path fill="#ffb6c1" d="M128 634h3v2h-3z"/>
<path fill="#00bfff" d="M128 636h3v2h-3z"/>
<path fill="#ff0000" d="M128 638h3v3h-3z"/>
<path fill="#00bfff" d="M128 641h3v2h-3z"/>
<path fill="#ffd700" d="M134 640h3v3h-3z"/>
<path fill="#ff0000" d="M137 628h3v2h-3z"/>
<path fill="#00ffff" d="M137 630h3v2h-3zM137 634h3v2h-3z"/>
<path fill="#ffb6c1" d="M137 636h3v2h-3z"/>
<path fill="#00ffff" d="M137 638h3v2h-3z"/>
<path fill="#ffd700" d="M137 640h3v3h-3z"/>
<path fill="#00ffff" d="M140 602h3v2h-3z"/>
<path fill="#ffb6c1" d="M140 617h3v4h-3zM140 623h3v2h-3zM140 628h3v12h-3z"/>
<path fill="#ff0000" d="M140 640h3v1h-3z"/>
<path fill="#ffb6c1" d="M140 641h3v2h-3z"/>
<path fill="#ff0000" d="M143 638h3v2h-3z"/>
<path fill="#ffb6c1" d="M146 623h4v4h-4z"/>
<path fill="#ffd700" d="M146 630h4v4h-4z"/>
<path fill="#ff0000" d="M146 634h4v2h-4z"/>
<path fill="#ffb6c1" d="M146 636h4v2h-4z"/>
<path fill="#ff0000" d="M146 638h4v3h-4z"/>
<path fill="#ffb6c1" d="M150 623h4v4h-4z"/>
<path fill="#ba55d3" d="M150 627h4v1h-4z"/>
<path fill="#ffb6c1" d="M150 628h4v4h-4z"/>
<path fill="#00ffff" d="M150 632h4v2h-4z"/>
<path fill="#ffb6c1" d="M150 634h4v2h-4z"/>
<path fill="#ff0000" d="M150 636h4v4h-4z"/>
<path fill="#00bfff" d="M150 640h4v1h-4z"/>
<path fill="#ffb6c1" d="M154 621h3v4h-3zM154 627h3v3h-3z"/>
<path fill="#00bfff" d="M154 630h3v2h-3z"/>
<path fill="#ffd700" d="M154 632h3v2h-3z"/>
<path fill="#00bfff" d="M154 634h3v6h-3z"/>
<path fill="#ff0000" d="M154 640h3v1h-3z"/>
<path fill="#ffb6c1" d="M157 621h4v4h-4z"/>
<path fill="#ff0000" d="M157 625h4v2h-4z"/>
<path fill="#ffb6c1" d="M157 627h4v7h-4z"/>
<path fill="#ffd700" d="M157 634h4v4h-4z"/>
<path fill="#ffb6c1" d="M157 638h4v3h-4zM161 625h3v3h-3z"/>
<path fill="#00bfff" d="M161 628h3v2h-3z"/>
<path fill="#ffb6c1" d="M161 630h3v2h-3z"/>
<path fill="#ff0000" d="M161 632h3v2h-3z"/>
<path fill="#ffd700" d="M161 634h3v4h-3z"/>
<path fill="#ff0000" d="M161 638h3v2h-3z"/>
<path fill="#ffb6c1" d="M164 623h3v4h-3z"/>
<path fill="#ff0000" d="M164 627h3v3h-3z"/>
<path fill="#00bfff" d="M164 630h3v2h-3z"/>
<path fill="#ff0000" d="M164 632h3v4h-3z"/>
<path fill="#ffb6c1" d="M164 636h3v4h-3z"/>
<path fill="#00bfff" d="M167 630h2v4h-2z"/>
<path fill="#00ffff" d="M167 634h2v2h-2z"/>
<path fill="#ffb6c1" d="M169 628h3v2h-3z"/>
<path fill="#ff0000" d="M169 630h3v4h-3z"/>
<path fill="#00ffff" d="M169 634h3v2h-3z"/>
<path fill="#ba55d3" d="M172 623h2v4h-2z"/>
<path fill="#00ffff" d="M172 628h2v2h-2z"/>
<path fill="#ffd700" d="M172 630h2v2h-2z"/>
<path fill="#ff0000" d="M172 632h2v2h-2z"/>
<path fill="#ffb6c1" d="M172 634h2v2h-2z"/>
<path fill="#ffd700" d="M174 614h3v1h-3z"/>
<path fill="#ffb6c1" d="M174 619h3v4h-3z"/>
<path fill="#ff0000" d="M174 623h3v2h-3z"/>
<path fill="#ffb6c1" d="M174 625h3v2h-3z"/>
<path fill="#3a3aff" d="M174 627h3v1h-3z"/>
<path fill="#00ffff" d="M174 628h3v2h-3z"/>
<path fill="#ff0000" d="M174 630h3v4h-3z"/>
<path fill="#00bfff" d="M174 634h3v2h-3z"/>
<path fill="#ff0000" d="M124 651h2v2h-2zM119 667h3v3h-3z"/>
<path fill="#ffd700" d="M122 666h2v5h-2z"/>
<path fill="#ff0000" d="M124 666h2v5h-2z"/>
<path fill="#00bfff" d="M119 670h3v1h-3z"/>
<path fill="#00ffff" d="M124 682h2v2h-2z"/>
<path fill="#ff0000" d="M157 653h4v1h-4z"/>
<path fill="#ba55d3" d="M184 649h3v2h-3z"/>
<path fill="#ff0000" d="M187 656h4v4h-4z"/>
<path fill="#00bfff" d="M222 647h4v2h-4z"/>
<path fill="#3a3aff" d="M222 649h4v2h-4z"/>
<path fill="#00bfff" d="M232 649h6v2h-6zM324 543h4v2h-4z"/>
<path fill="#008000" d="M324 547h4v2h-4z"/>
<path fill="#ff0000" d="M324 549h4v1h-4z"/>
<path fill="#008000" d="M324 567h4v9h-4z"/>
<path fill="#ff0000" d="M324 576h4v2h-4z"/>
<path fill="#ba55d3" d="M324 578h4v2h-4z"/>
<path fill="#00bfff" d="M319 550h4v2h-4z"/>
<path fill="#008000" d="M319 552h4v4h-4z"/>
<path fill="#00bfff" d="M328 534h7v3h-7z"/>
<path fill="#008000" d="M328 539h7v2h-7z"/>
<path fill="#00bfff" d="M328 541h7v2h-7z"/>
<path fill="#008000" d="M328 569h7v2h-7zM328 575h7v5h-7z"/>
<path fill="#00bfff" d="M335 519h8v2h-8z"/>
<path fill="#008000" d="M335 552h8v2h-8z"/>
<path fill="#00bfff" d="M335 558h8v4h-8z"/>
<path fill="#008000" d="M335 562h8v3h-8z"/>
<path fill="#00bfff" d="M335 567h8v2h-8z"/>
<path fill="#008000" d="M335 569h8v6h-8zM343 554h7v6h-7zM343 562h7v9h-7zM350 554h6v8h-6z"/>
<path fill="#ffb6c1" d="M350 562h6v1h-6z"/>
<path fill="#008000" d="M356 530h5v2h-5zM356 534h5v2h-5zM356 537h5v6h-5zM356 545h5v7h-5zM356 556h5v4h-5zM361 528h4v4h-4zM361 541h4v4h-4z"/>
<path fill="#ff0000" d="M361 547h4v2h-4z"/>
<path fill="#3a3aff" d="M361 549h4v1h-4z"/>
<path fill="#ba55d3" d="M361 552h4v4h-4z"/>
<path fill="#00bfff" d="M365 521h4v2h-4z"/>
<path fill="#ff0000" d="M365 534h4v3h-4z"/>
<path fill="#008000" d="M365 537h4v2h-4zM365 543h4v6h-4zM369 524h4v12h-4zM369 541h4v2h-4z"/>
<path fill="#ff0000" d="M369 543h4v2h-4z"/>
<path fill="#ba55d3" d="M369 547h4v3h-4z"/>
<path fill="#008000" d="M373 521h3v3h-3z"/>
<path fill="#ff0000" d="M373 524h3v2h-3z"/>
<path fill="#3a3aff" d="M373 528h3v2h-3z"/>
<path fill="#008000" d="M373 530h3v2h-3z"/>
<path fill="#ff0000" d="M373 534h3v3h-3z"/>
<path fill="#ffb6c1" d="M373 537h3v2h-3z"/>
<path fill="#ba55d3" d="M373 541h3v2h-3z"/>
<path fill="#ff0000" d="M373 543h3v4h-3zM376 520h3v4h-3z"/>
<path fill="#ba55d3" d="M376 526h3v2h-3zM376 536h3v1h-3zM376 539h3v2h-3z"/>
<path fill="#00ffff" d="M324 434h4v1h-4zM324 445h4v5h-4z"/>
<path fill="#00bfff" d="M324 500h4v2h-4z"/>
<path fill="#008000" d="M324 510h4v2h-4z"/>
<path fill="#00bfff" d="M324 517h4v2h-4z"/>
<path fill="#008000" d="M328 474h7v2h-7z"/>
<path fill="#00bfff" d="M328 487h7v2h-7z"/>
<path fill="#ffb6c1" d="M335 463h8v2h-8z"/>
<path fill="#ff0000" d="M335 467h8v2h-8z"/>
<path fill="#00bfff" d="M335 502h8v4h-8z"/>
<path fill="#008000" d="M335 512h8v1h-8z"/>
<path fill="#00bfff" d="M335 513h8v8h-8zM343 456h7v7h-7z"/>
<path fill="#008000" d="M343 465h7v4h-7z"/>
<path fill="#00bfff" d="M343 473h7v1h-7z"/>
<path fill="#008000" d="M343 474h7v4h-7z"/>
<path fill="#00bfff" d="M343 482h7v2h-7z"/>
<path fill="#008000" d="M343 484h7v2h-7z"/>
<path fill="#00bfff" d="M343 487h7v2h-7z"/>
<path fill="#ff0000" d="M350 448h6v4h-6z"/>
<path fill="#008000" d="M350 476h6v2h-6z"/>
<path fill="#00ffff" d="M356 450h5v2h-5z"/>
<path fill="#ff0000" d="M356 452h5v2h-5z"/>
<path fill="#008000" d="M356 510h5v3h-5z"/>
<path fill="#ffd700" d="M361 456h4v2h-4z"/>
<path fill="#008000" d="M361 493h4v4h-4z"/>
<path fill="#00bfff" d="M365 452h4v2h-4z"/>
<path fill="#008000" d="M365 454h4v2h-4zM365 465h4v4h-4zM365 493h4v4h-4zM365 499h4v3h-4z"/>
<path fill="#3a3aff" d="M365 515h4v2h-4z"/>
<path fill="#00bfff" d="M365 517h4v2h-4z"/>
<path fill="#ffd700" d="M369 456h4v2h-4z"/>
<path fill="#008000" d="M369 458h4v2h-4zM369 476h4v2h-4z"/>
<path fill="#00bfff" d="M369 482h4v2h-4z"/>
<path fill="#008000" d="M369 484h4v2h-4zM369 487h4v4h-4zM369 493h4v2h-4zM369 499h4v3h-4z"/>
<path fill="#ba55d3" d="M392 435h5v2h-5z"/>
<path fill="#3a3aff" d="M392 437h5v2h-5z"/>
<path fill="#008000" d="M387 439h5v2h-5zM324 357h4v6h-4zM328 350h7v2h-7z"/>
<path fill="#00ffff" d="M335 389h8v4h-8z"/>
<path fill="#00bfff" d="M350 350h6v2h-6z"/>
<path fill="#00ffff" d="M365 432h4v2h-4z"/>
<path fill="#008000" d="M369 369h4v1h-4zM369 398h4v2h-4z"/>
<path fill="#00bfff" d="M369 408h4v1h-4z"/>
<path fill="#008000" d="M369 409h4v2h-4zM369 415h4v2h-4zM369 422h7v2h-7zM373 391h3v2h-3z"/>
<path fill="#00bfff" d="M373 402h3v2h-3zM373 411h3v2h-3z"/>
<path fill="#008000" d="M373 413h3v2h-3zM373 417h3v4h-3z"/>
<path fill="#00bfff" d="M373 432h3v2h-3zM376 357h3v2h-3z"/>
<path fill="#008000" d="M376 359h3v2h-3zM376 369h3v3h-3zM376 391h3v4h-3zM376 406h3v2h-3zM376 428h3v2h-3zM379 415h4v2h-4z"/>
<path fill="#00bfff" d="M379 417h4v2h-4z"/>
<path fill="#008000" d="M379 419h4v2h-4zM392 374h5v2h-5z"/>
<path fill="#ffd700" d="M392 406h5v2h-5z"/>
<path fill="#3a3aff" d="M392 426h5v2h-5z"/>
<path fill="#00bfff" d="M112 175h4v1h-4zM112 248h4v2h-4z"/>
<path fill="#ffb6c1" d="M217 582h5v2h-5z"/>
<path fill="#3a3aff" d="M122 723h2v2h-2z"/>
<path fill="#ffd700" d="M119 725h3v4h-3z"/>
<path fill="#ff0000" d="M122 725h2v2h-2z"/>
<path fill="#ffd700" d="M124 725h2v2h-2z"/>
<path fill="#ffb6c1" d="M122 727h2v4h-2z"/>
<path fill="#ff0000" d="M124 727h2v4h-2z"/>
<path fill="#ffb6c1" d="M119 729h3v3h-3z"/>
<path fill="#00ffff" d="M128 727h3v2h-3z"/>
<path fill="#ffd700" d="M131 727h3v2h-3z"/>
<path fill="#ff0000" d="M128 729h3v2h-3zM137 727h3v2h-3z"/>
<path fill="#ffb6c1" d="M146 727h4v2h-4z"/>
<path fill="#ffd700" d="M146 729h4v2h-4z"/>
<path fill="#ff0000" d="M150 725h7v4h-7zM150 729h4v2h-4z"/>
<path fill="#ffb6c1" d="M154 729h3v2h-3zM157 727h4v2h-4z"/>
<path fill="#ff0000" d="M174 727h3v2h-3z"/>
<path fill="#ffb6c1" d="M177 727h3v2h-3z"/>
<path fill="#008000" d="M180 725h4v6h-4zM177 729h3v2h-3z"/>
<path fill="#00ffff" d="M184 727h3v2h-3z"/>
<path fill="#008000" d="M184 729h3v2h-3zM187 727h4v4h-4z"/>
<path fill="#00bfff" d="M324 545h4v2h-4z"/>
<path fill="#ff0000" d="M369 536h4v1h-4zM369 545h4v2h-4z"/>
</g>
<path d="M138.5 100.5V793.5M230.5 100.5V793.5M323.5 100.5V793.5M415.5 100.5V793.5M508.5 100.5V793.5M600.5 100.5V793.5M692.5 100.5V793.5M785.5 100.5V793.5M92.5 793.5H785.5M92.5 669.5H785.5M92.5 545.5H785.5M92.5 421.5H785.5M92.5 298.5H785.5M92.5 174.5H785.5" stroke="#b0b0b0" stroke-width="1" fill="none"/>
<path d="M92.5 793.5v3M115.5 793.5v3M138.5 793.5v5M161.5 793.5v3M184.5 793.5v3M207.5 793.5v3M230.5 793.5v5M253.5 793.5v3M277.5 793.5v3M300.5 793.5v3M323.5 793.5v5M346.5 793.5v3M369.5 793.5v3M392.5 793.5v3M415.5 793.5v5M438.5 793.5v3M461.5 793.5v3M484.5 793.5v3M508.5 793.5v5M531.5 793.5v3M554.5 793.5v3M577.5 793.5v3M600.5 793.5v5M623.5 793.5v3M646.5 793.5v3M669.5 793.5v3M692.5 793.5v5M715.5 793.5v3M739.5 793.5v3M762.5 793.5v3M785.5 793.5v5M92.5 793.5h-5M92.5 762.5h-3M92.5 731.5h-3M92.5 700.5h-3M92.5 669.5h-5M92.5 638.5h-3M92.5 607.5h-3M92.5 576.5h-3M92.5 545.5h-5M92.5 514.5h-3M92.5 483.5h-3M92.5 452.5h-3M92.5 421.5h-5M92.5 390.5h-3M92.5 360.5h-3M92.5 329.5h-3M92.5 298.5h-5M92.5 267.5h-3M92.5 236.5h-3M92.5 205.5h-3M92.5 174.5h-5M92.5 143.5h-3M92.5 112.5h-3" stroke="#000" stroke-width="1.07" fill="none"/>
<rect x="92.5" y="100.5" width="693.0" height="693.0" fill="none" stroke="#000" stroke-width="1.07"/>
<g font-size="16px">
<text transform="translate(138.6 815) scale(0.96 1)" text-anchor="middle">2</text>
<text transform="translate(231.1 815) scale(0.96 1)" text-anchor="middle">4</text>
<text transform="translate(323.4 815) scale(0.96 1)" text-anchor="middle">6</text>
<text transform="translate(415.9 815) scale(0.96 1)" text-anchor="middle">8</text>
<text transform="translate(508.2 815) scale(0.96 1)" text-anchor="middle">10</text>
<text transform="translate(600.7 815) scale(0.96 1)" text-anchor="middle">12</text>
<text transform="translate(693.1 815) scale(0.96 1)" text-anchor="middle">14</text>
<text transform="translate(785.5 815) scale(0.96 1)" text-anchor="middle">16</text>
<text transform="translate(81.2 799.0) scale(1.02 1)" text-anchor="end">0</text>
<text transform="translate(81.2 675.0) scale(1.02 1)" text-anchor="end">200</text>
<text transform="translate(81.2 551.0) scale(1.02 1)" text-anchor="end">400</text>
<text transform="translate(81.2 427.0) scale(1.02 1)" text-anchor="end">600</text>
<text transform="translate(81.2 304.0) scale(1.02 1)" text-anchor="end">800</text>
<text transform="translate(81.2 180.0) scale(1.02 1)" text-anchor="end">1000</text>
</g>
<text x="437.8" y="841.6" font-size="24px" text-anchor="middle">Frequency (MHz)</text>
<text transform="translate(28.5 446.5) rotate(-90)" font-size="24.08px" text-anchor="middle">Virtual height (km)</text>
<text x="426.7" y="32.3" font-size="28.93px" text-anchor="middle">NAL CADI - Mar 25 19:15:00 2023 UTC</text>
<rect x="816.5" y="82.00" width="30.0" height="90.30" fill="#00bfff"/>
<rect x="816.5" y="172.00" width="30.0" height="90.30" fill="#00ffff"/>
<rect x="816.5" y="262.00" width="30.0" height="90.30" fill="#ffd700"/>
<rect x="816.5" y="352.00" width="30.0" height="90.30" fill="#ffb6c1"/>
<rect x="816.5" y="442.00" width="30.0" height="90.30" fill="#ba55d3"/>
<rect x="816.5" y="532.00" width="30.0" height="90.30" fill="#3a3aff"/>
<rect x="816.5" y="622.00" width="30.0" height="90.30" fill="#ff0000"/>
<rect x="816.5" y="712.00" width="30.0" height="90.30" fill="#008000"/>
<path d="M846.5 82.5h3M846.5 172.5h3M846.5 262.5h3M846.5 352.5h3M846.5 442.5h3M846.5 532.5h3M846.5 622.5h3M846.5 712.5h3M846.5 802.5h3M846.5 127.5h5M846.5 217.5h5M846.5 307.5h5M846.5 397.5h5M846.5 487.5h5M846.5 577.5h5M846.5 667.5h5M846.5 757.5h5" stroke="#000" stroke-width="1.07" fill="none"/>
<rect x="816.5" y="82.5" width="30.0" height="720.0" fill="none" stroke="#000" stroke-width="1.07"/>
<g font-size="16px">
<text transform="translate(855.9 133.0) scale(1.02 1)">NNE</text>
<text transform="translate(855.9 223.0) scale(1.02 1)">E</text>
<text transform="translate(855.9 313.0) scale(1.02 1)">SSE</text>
<text transform="translate(855.9 403.0) scale(1.02 1)">SSW</text>
<text transform="translate(855.9 493.0) scale(1.02 1)">W</text>
<text transform="translate(855.9 583.0) scale(1.02 1)">NNW</text>
<text transform="translate(855.9 673.0) scale(1.02 1)">Vertical</text>
<text transform="translate(855.9 763.0) scale(1.02 1)">X-mode</text>
</g>
<text transform="translate(942.7 442.6) rotate(-90)" font-size="24.1px" text-anchor="middle">Azimuth Direction</text>
</svg>
</body></html>
